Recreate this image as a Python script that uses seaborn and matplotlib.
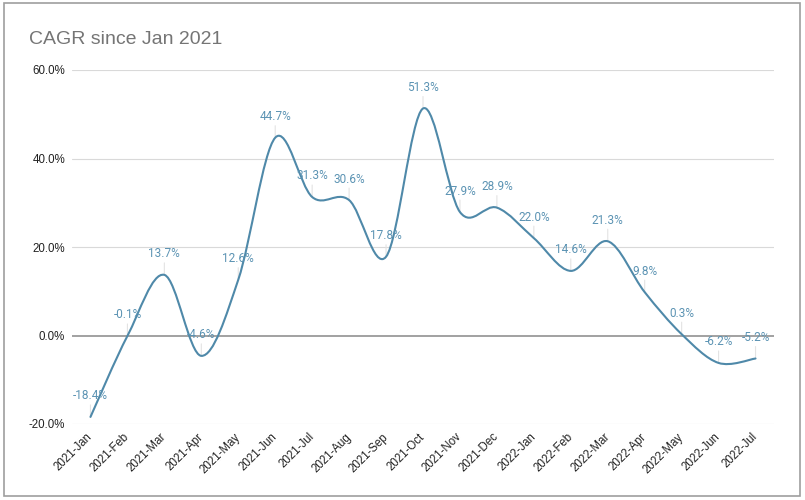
import numpy as np
import seaborn as sns
import matplotlib.pyplot as plt
from matplotlib.path import Path
from matplotlib.patches import PathPatch, Rectangle

months = ["2021-Jan", "2021-Feb", "2021-Mar", "2021-Apr", "2021-May", "2021-Jun",
          "2021-Jul", "2021-Aug", "2021-Sep", "2021-Oct", "2021-Nov", "2021-Dec",
          "2022-Jan", "2022-Feb", "2022-Mar", "2022-Apr", "2022-May", "2022-Jun",
          "2022-Jul"]
cagr = [-18.4, -0.1, 13.7, -4.6, 12.6, 44.7, 31.3, 30.6, 17.8, 51.3,
        27.9, 28.9, 22.0, 14.6, 21.3, 9.8, 0.3, -6.2, -5.2]
y_ticks = [-20, 0, 20, 40, 60]

line_color = "#4f89a9"
label_color = "#5b93b3"

sns.set_theme(style="white")
plt.rcParams["font.family"] = ["Liberation Sans", "DejaVu Sans"]

fig = plt.figure(figsize=(8.05, 5.0), dpi=100)
ax = fig.add_axes([72 / 805, 76 / 500, 702 / 805, 354 / 500])

# smooth curve through the points (cubic bezier, catmull-rom style)
x = np.arange(len(cagr), dtype=float)
y = np.array(cagr)
n = len(y)
verts = [(x[0], y[0])]
codes = [Path.MOVETO]
for i in range(n - 1):
    a = i - 1 if i > 0 else i
    b = i + 2 if i + 2 < n else i + 1
    c1 = (x[i] + (x[i + 1] - x[a]) / 6, y[i] + (y[i + 1] - y[a]) / 6)
    c2 = (x[i + 1] - (x[b] - x[i]) / 6, y[i + 1] - (y[b] - y[i]) / 6)
    verts += [c1, c2, (x[i + 1], y[i + 1])]
    codes += [Path.CURVE4] * 3
ax.add_patch(PathPatch(Path(verts, codes), facecolor="none", edgecolor=line_color,
                       lw=1.5, zorder=4, capstyle="round", joinstyle="round"))

# data labels with small leader lines
for i, v in enumerate(cagr):
    ax.annotate("", (i, v), xytext=(0, 12), textcoords="offset pixels",
                arrowprops=dict(arrowstyle="-", color="#e3e3e3", lw=0.8,
                                shrinkA=0, shrinkB=0), zorder=2)
    ax.annotate(f"{v:.1f}%", (i, v), xytext=(0, 21), textcoords="offset pixels",
                ha="center", va="center", color=label_color, fontsize=8.5,
                family=["Roboto", "DejaVu Sans"], zorder=5)

ax.set_xlim(-0.5, n - 0.5)
ax.set_ylim(-20, 60)
ax.set_yticks(y_ticks)
ax.set_yticklabels([f"{t:.1f}%" for t in y_ticks], fontsize=8.3, color="#222222")
ax.set_xticks(x)
ax.set_xticklabels(months, rotation=45, ha="right", va="center",
                   rotation_mode="anchor", fontsize=8.3, color="#222222")
ax.tick_params(axis="x", length=0, pad=8)
ax.tick_params(axis="y", length=0, pad=5)
for t in y_ticks:
    if t == 0:
        ax.axhline(t, color="#9a9a9a", lw=1.3, zorder=3)
    else:
        ax.axhline(t, color="#d9d9d9", lw=0.8, zorder=1)
for s in ax.spines.values():
    s.set_visible(False)

fig.text(29 / 805, 1 - 44 / 500, "CAGR since Jan 2021", fontsize=14,
         color="#757575", ha="left", va="baseline")
fig.patches.append(Rectangle((3.5 / 805, 4.5 / 500), 796.5 / 805, 493 / 500,
                             transform=fig.transFigure, fill=False,
                             edgecolor="#9e9e9e", lw=1.2))

fig.savefig("out.png", dpi=100)
